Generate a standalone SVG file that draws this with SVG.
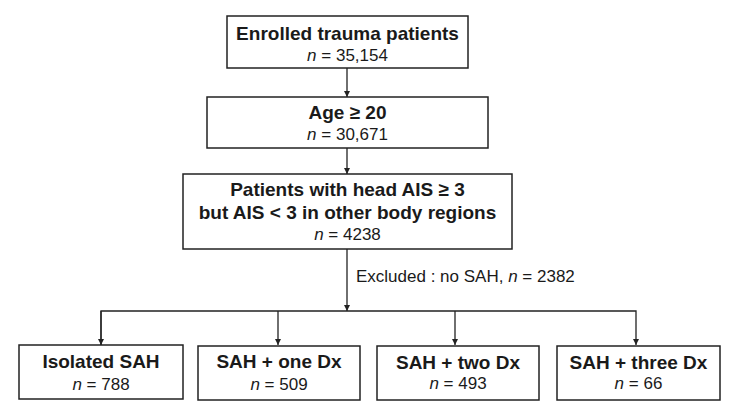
<svg xmlns="http://www.w3.org/2000/svg" width="737" height="418" viewBox="0 0 737 418">
<style>
.box{fill:#fff;stroke:#222;stroke-width:1.5}
.t{font-family:"Liberation Sans",Arial,sans-serif;fill:#1a1a1a;text-anchor:middle}
.b{font-weight:bold;font-size:19px}
.r{font-size:17px}
.c{fill:none;stroke:#222;stroke-width:1.3}
</style>
<defs>
<marker id="ah" viewBox="0 0 10 10" refX="10" refY="5" markerWidth="6" markerHeight="6" markerUnits="userSpaceOnUse" orient="auto">
<path d="M0,0 L10,5 L0,10 z" fill="#222"/>
</marker>
</defs>
<rect width="737" height="418" fill="#fff"/>
<g id="connectors">
<line class="c" x1="347" y1="68" x2="347" y2="97" marker-end="url(#ah)"/>
<line class="c" x1="347" y1="148" x2="347" y2="174" marker-end="url(#ah)"/>
<line class="c" x1="347" y1="249" x2="347" y2="311" marker-end="url(#ah)"/>
<polyline class="c" points="101,345 101,311 636,311 636,345" marker-end="url(#ah)"/>
<line class="c" x1="101" y1="311" x2="101" y2="345" marker-end="url(#ah)"/>
<line class="c" x1="278" y1="311" x2="278" y2="345" marker-end="url(#ah)"/>
<line class="c" x1="455" y1="311" x2="455" y2="345" marker-end="url(#ah)"/>
<text class="t r" x="356" y="282" style="text-anchor:start">Excluded : no SAH, <tspan font-style="italic">n</tspan> = 2382</text>
</g>
<g id="enrolled">
<rect class="box" x="227" y="16" width="241" height="52"/>
<text class="t b" x="347.5" y="40">Enrolled trauma patients</text>
<text class="t r" x="347.5" y="61"><tspan font-style="italic">n</tspan> = 35,154</text>
</g>
<g id="age">
<rect class="box" x="207" y="97" width="281" height="51"/>
<text class="t b" x="347.5" y="119">Age ≥ 20</text>
<text class="t r" x="347.5" y="140"><tspan font-style="italic">n</tspan> = 30,671</text>
</g>
<g id="head">
<rect class="box" x="183" y="174" width="329" height="75"/>
<text class="t b" x="347.5" y="196">Patients with head AIS ≥ 3</text>
<text class="t b" x="347.5" y="219">but AIS &lt; 3 in other body regions</text>
<text class="t r" x="347.5" y="240"><tspan font-style="italic">n</tspan> = 4238</text>
</g>
<g id="isolated">
<rect class="box" x="19" y="345" width="164" height="54"/>
<text class="t b" x="101" y="368">Isolated SAH</text>
<text class="t r" x="101" y="390"><tspan font-style="italic">n</tspan> = 788</text>
</g>
<g id="one">
<rect class="box" x="198" y="346" width="162" height="54"/>
<text class="t b" x="279" y="368">SAH + one Dx</text>
<text class="t r" x="279" y="390"><tspan font-style="italic">n</tspan> = 509</text>
</g>
<g id="two">
<rect class="box" x="377" y="346" width="162" height="54"/>
<text class="t b" x="458" y="369">SAH + two Dx</text>
<text class="t r" x="458" y="389"><tspan font-style="italic">n</tspan> = 493</text>
</g>
<g id="three">
<rect class="box" x="557" y="346" width="163" height="54"/>
<text class="t b" x="638.5" y="369">SAH + three Dx</text>
<text class="t r" x="638.5" y="389"><tspan font-style="italic">n</tspan> = 66</text>
</g>
</svg>
